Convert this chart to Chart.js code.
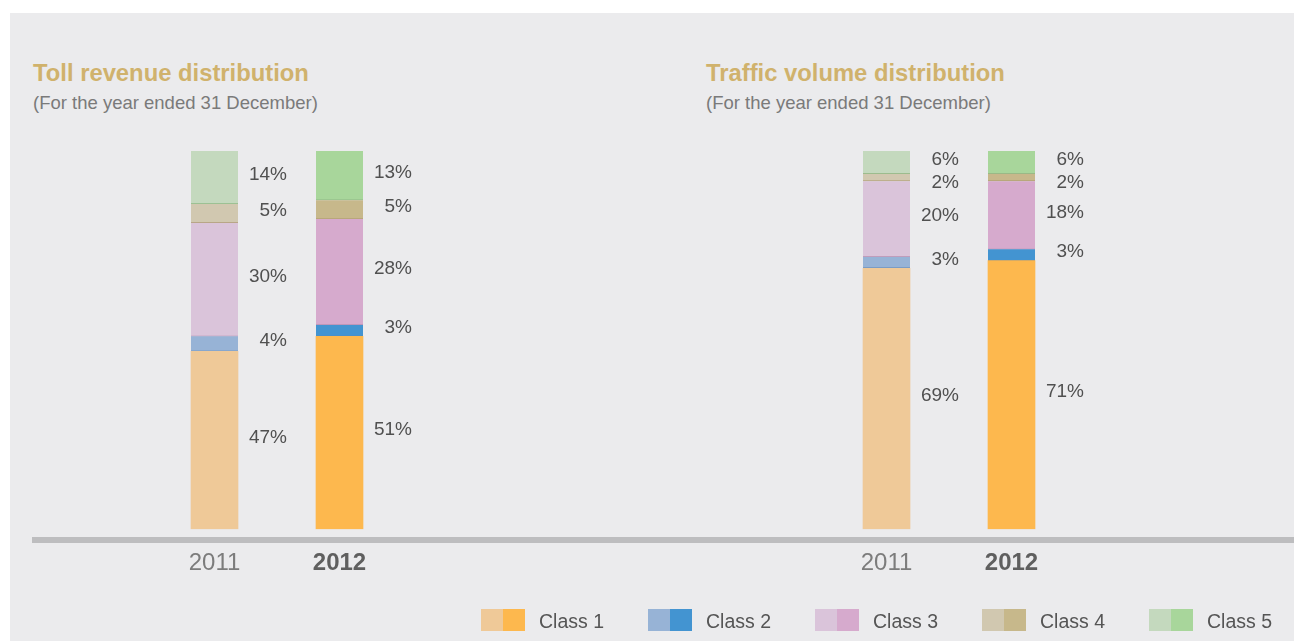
<!DOCTYPE html>
<html>
<head>
<meta charset="utf-8">
<script src="https://cdn.jsdelivr.net/npm/chart.js@4"></script>
<style>
  body { margin: 0; background: #fff; font-family: "Liberation Sans", Arial, sans-serif; }
  #panel { position: absolute; left: 10px; top: 13px; width: 1284px; height: 628px; background: #ebebed; }
  .title { position: absolute; font-weight: bold; font-size: 23.8px; color: #d0b26c; }
  .sub { position: absolute; font-size: 18.5px; color: #7a7a7a; }
  canvas { position: absolute; top: 130px; }
  #axisLine { position: absolute; left: 32px; top: 537px; width: 1262px; height: 6px; background: #bdbdbf; }
  .sw { position: absolute; top: 609px; width: 44px; height: 22px; }
  .sw span { display: inline-block; width: 22px; height: 22px; float: left; }
  .lt { position: absolute; top: 610px; line-height: 22px; font-size: 19.5px; color: #555; }
</style>
</head>
<body>
<div id="panel"></div>
<div class="title" style="left:33px;top:59px">Toll revenue distribution</div>
<div class="sub" style="left:33px;top:92px">(For the year ended 31 December)</div>
<div class="title" style="left:706px;top:59px">Traffic volume distribution</div>
<div class="sub" style="left:706px;top:92px">(For the year ended 31 December)</div>
<div id="axisLine"></div>
<canvas id="tollChart" width="500" height="480" style="left:32px"></canvas>
<canvas id="trafficChart" width="500" height="480" style="left:704px"></canvas>
<div id="legend"></div>
<script>
const years = ['2011', '2012'];
const classes = ['Class 1', 'Class 2', 'Class 3', 'Class 4', 'Class 5'];
// shares in %, Class 1..5
const toll2011 = [47, 4, 30, 5, 14];
const toll2012 = [51, 3, 28, 5, 13];
const traffic2011 = [69, 3, 20, 2, 6];
const traffic2012 = [71, 3, 18, 2, 6];

const lightColors = ['#efc998', '#97b3d6', '#dac4da', '#d1c8b0', '#c4d9be'];
const darkColors = ['#fdb84e', '#4394d1', '#d6aacd', '#c7b88b', '#a8d69b'];
const edgeColors = ['#d9a65a', '#5c85b5', '#b690b2', '#a8966a', '#8fb985'];

const segLabels = {
  id: 'segLabels',
  afterDatasetsDraw(chart) {
    const ctx = chart.ctx;
    ctx.save();
    ctx.font = '19px "Liberation Sans", Arial, sans-serif';
    ctx.fillStyle = '#505050';
    ctx.textAlign = 'right';
    ctx.textBaseline = 'middle';
    years.forEach((y, idx) => {
      let prev = -Infinity;
      for (let d = chart.data.datasets.length - 1; d >= 0; d--) {
        const bar = chart.getDatasetMeta(d).data[idx];
        let cy = (bar.y + bar.base) / 2 - 3;
        if (cy < prev + 23) cy = prev + 23;
        prev = cy;
        ctx.fillText(chart.data.datasets[d].data[idx] + '%', bar.x + bar.width / 2 + 49, cy);
      }
    });
    ctx.restore();
  }
};

function makeChart(id, first, second) {
  const datasets = classes.map((c, i) => ({
    label: c,
    data: [first[i], second[i]],
    backgroundColor: [lightColors[i], darkColors[i]],
    borderColor: edgeColors[i],
    borderWidth: i === 0 ? 0 : { top: 0, right: 0, left: 0, bottom: 1 },
    borderSkipped: false,
    barThickness: 47
  }));
  return new Chart(document.getElementById(id), {
    type: 'bar',
    data: { labels: years, datasets },
    options: {
      responsive: false,
      devicePixelRatio: 1,
      animation: false,
      layout: { padding: { left: 120, right: 130, top: 21, bottom: 12 } },
      plugins: { legend: { display: false }, tooltip: { enabled: false } },
      scales: {
        x: {
          stacked: true,
          grid: { display: false, drawTicks: false },
          border: { display: false },
          ticks: {
            padding: 20,
            color: (c) => c.index === 1 ? '#5f5f5f' : '#7c7c7c',
            font: (c) => ({ family: '"Liberation Sans", Arial, sans-serif', size: 24, weight: c.index === 1 ? 'bold' : 'normal' })
          }
        },
        y: { stacked: true, display: false, min: 0, max: 100 }
      }
    },
    plugins: [segLabels]
  });
}

makeChart('tollChart', toll2011, toll2012);
makeChart('trafficChart', traffic2011, traffic2012);

const legend = document.getElementById('legend');
classes.forEach((c, i) => {
  const sw = document.createElement('div');
  sw.className = 'sw';
  sw.style.left = (481 + 167 * i) + 'px';
  sw.innerHTML = `<span style="background:${lightColors[i]}"></span><span style="background:${darkColors[i]}"></span>`;
  legend.appendChild(sw);
  const t = document.createElement('div');
  t.className = 'lt';
  t.style.left = (539 + 167 * i) + 'px';
  t.textContent = c;
  legend.appendChild(t);
});
</script>
</body>
</html>
